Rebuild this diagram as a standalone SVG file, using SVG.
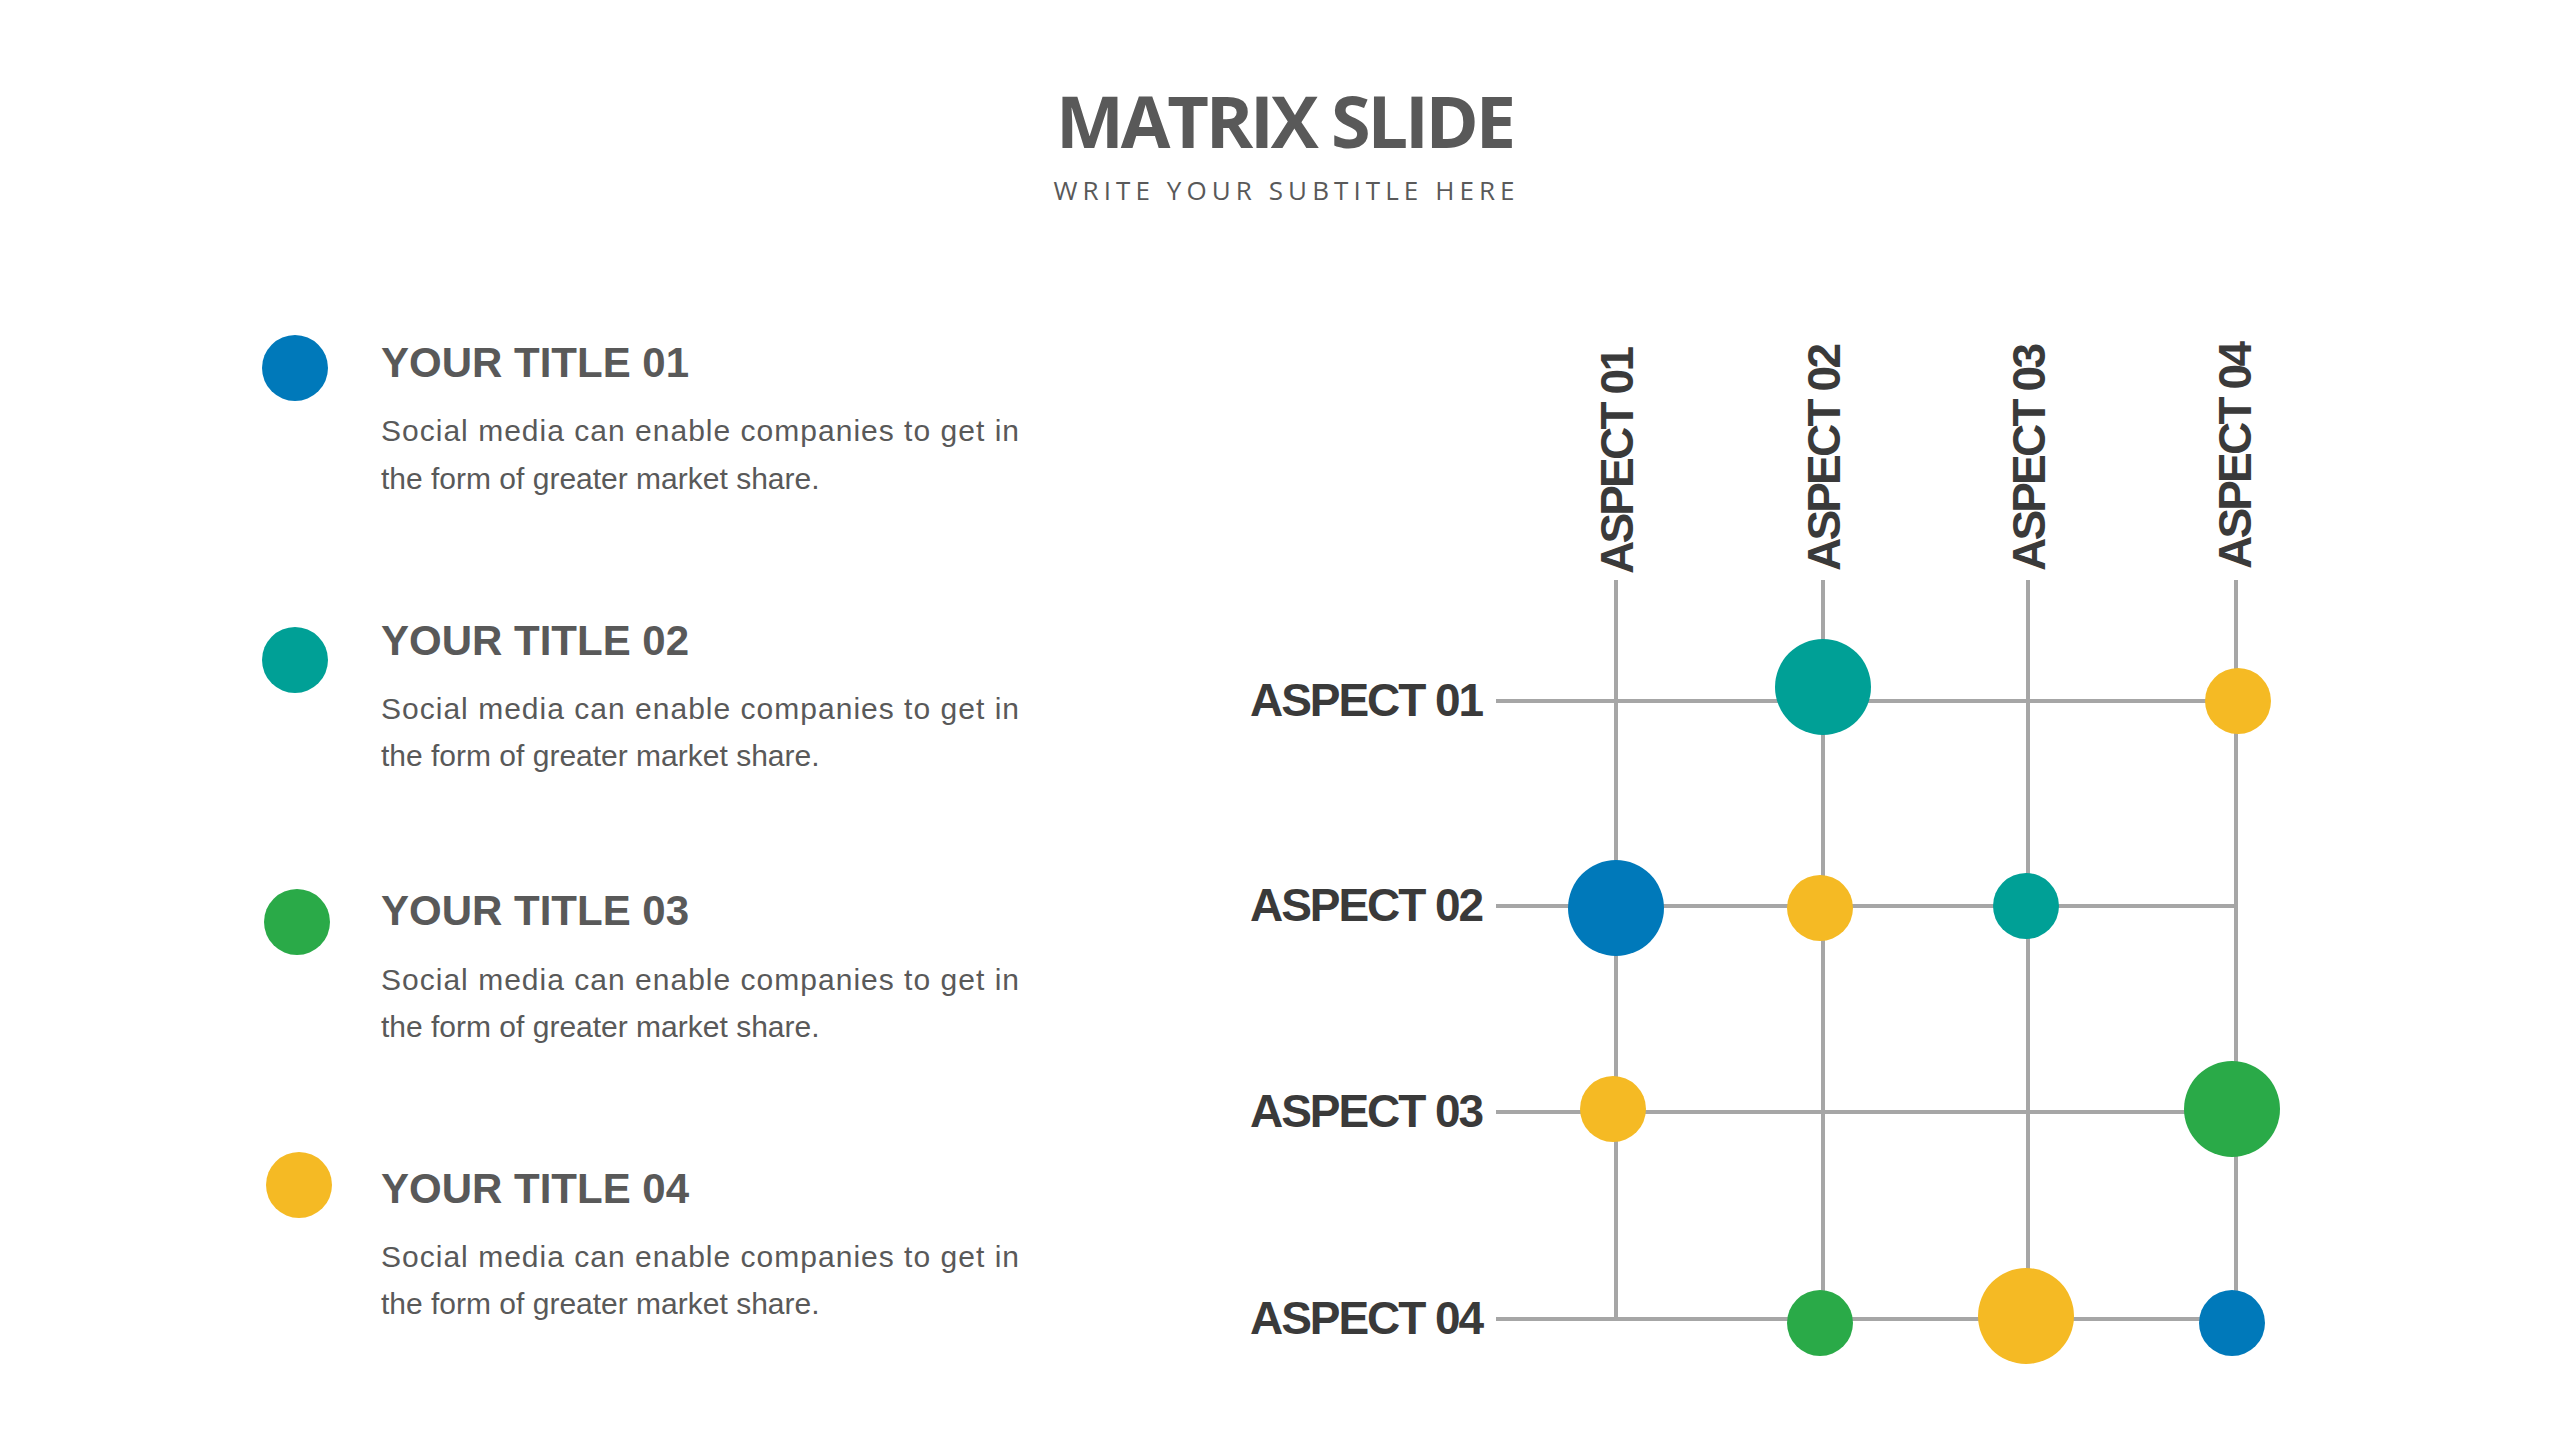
<svg xmlns="http://www.w3.org/2000/svg" width="2559" height="1440" viewBox="0 0 2559 1440">
<style>
.t{font-family:"Liberation Sans",Arial,sans-serif;font-weight:bold;fill:#595959;font-size:42px}
.b{font-family:"Liberation Sans",Arial,sans-serif;fill:#595959;font-size:30px}
.a{font-family:"Liberation Sans",Arial,sans-serif;font-weight:bold;fill:#3a3a3a;font-size:46px}
.l{stroke:#a6a6a6;stroke-width:4;fill:none}
.bl{fill:#0079ba}.te{fill:#00a096}.gr{fill:#2aaa48}.ye{fill:#f5ba24}
</style>
<rect width="2559" height="1440" fill="#fff"/>
<g id="header">
<text x="1286" y="148" text-anchor="middle" font-family="'Open Sans','Liberation Sans',sans-serif" font-weight="bold" font-size="72" fill="#595959" textLength="460">MATRIX SLIDE</text>
<text x="1286" y="200" text-anchor="middle" font-family="'Open Sans','Liberation Sans',sans-serif" font-size="26" fill="#595959" textLength="465" letter-spacing="4">WRITE YOUR SUBTITLE HERE</text>
</g>
<g id="item1"><circle class="bl" cx="295" cy="368" r="33"/><text class="t" x="381" y="377">YOUR TITLE 01</text><text class="b" x="381" y="441" textLength="638">Social media can enable companies to get in</text><text class="b" x="381" y="489">the form of greater market share.</text></g>
<g id="item2"><circle class="te" cx="295" cy="660" r="33"/><text class="t" x="381" y="655">YOUR TITLE 02</text><text class="b" x="381" y="719" textLength="638">Social media can enable companies to get in</text><text class="b" x="381" y="766">the form of greater market share.</text></g>
<g id="item3"><circle class="gr" cx="297" cy="922" r="33"/><text class="t" x="381" y="925">YOUR TITLE 03</text><text class="b" x="381" y="990" textLength="638">Social media can enable companies to get in</text><text class="b" x="381" y="1037">the form of greater market share.</text></g>
<g id="item4"><circle class="ye" cx="299" cy="1185" r="33"/><text class="t" x="381" y="1203">YOUR TITLE 04</text><text class="b" x="381" y="1267" textLength="638">Social media can enable companies to get in</text><text class="b" x="381" y="1314">the form of greater market share.</text></g>
<g id="connectors">
<line class="l" x1="1496" y1="701" x2="2236" y2="701"/>
<line class="l" x1="1496" y1="906" x2="2236" y2="906"/>
<line class="l" x1="1496" y1="1112" x2="2236" y2="1112"/>
<line class="l" x1="1496" y1="1319" x2="2236" y2="1319"/>
<line class="l" x1="1616" y1="580" x2="1616" y2="1319"/>
<line class="l" x1="1823" y1="580" x2="1823" y2="1319"/>
<line class="l" x1="2028" y1="580" x2="2028" y2="1319"/>
<line class="l" x1="2236" y1="580" x2="2236" y2="1319"/>
</g>
<g id="row-labels">
<text class="a" x="1484" y="716" text-anchor="end" textLength="234">ASPECT 01</text>
<text class="a" x="1484" y="921" text-anchor="end" textLength="234">ASPECT 02</text>
<text class="a" x="1484" y="1127" text-anchor="end" textLength="234">ASPECT 03</text>
<text class="a" x="1484" y="1334" text-anchor="end" textLength="234">ASPECT 04</text>
</g>
<g id="col-labels">
<text class="a" transform="translate(1633,574) rotate(-90)" textLength="228">ASPECT 01</text>
<text class="a" transform="translate(1840,571) rotate(-90)" textLength="228">ASPECT 02</text>
<text class="a" transform="translate(2045,571) rotate(-90)" textLength="228">ASPECT 03</text>
<text class="a" transform="translate(2251,569) rotate(-90)" textLength="228">ASPECT 04</text>
</g>
<g id="dots">
<circle class="te" cx="1823" cy="687" r="48"/>
<circle class="ye" cx="2238" cy="701" r="33"/>
<circle class="bl" cx="1616" cy="908" r="48"/>
<circle class="ye" cx="1820" cy="908" r="33"/>
<circle class="te" cx="2026" cy="906" r="33"/>
<circle class="ye" cx="1613" cy="1109" r="33"/>
<circle class="gr" cx="2232" cy="1109" r="48"/>
<circle class="gr" cx="1820" cy="1323" r="33"/>
<circle class="ye" cx="2026" cy="1316" r="48"/>
<circle class="bl" cx="2232" cy="1323" r="33"/>
</g>
</svg>
